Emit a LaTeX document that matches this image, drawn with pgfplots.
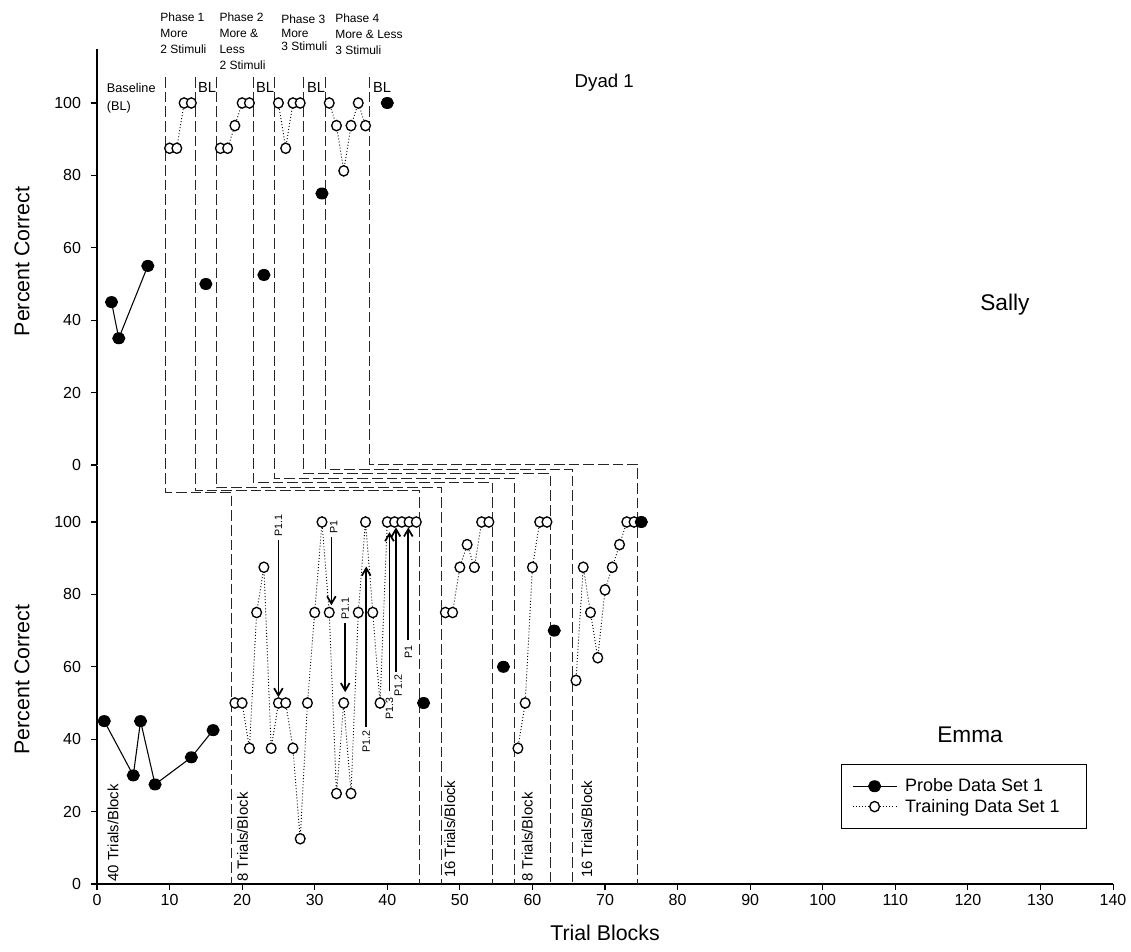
\documentclass[border=0pt]{standalone}
\usepackage{fontspec}
\setmainfont{Liberation Sans}
\usepackage{pgfplots}
\pgfplotsset{compat=1.18}
\usetikzlibrary{arrows.meta}

\pgfplotsset{
  base/.style={
    x=5.443pt, y=2.715pt,
    xmin=0, xmax=140, ymin=0,
    clip=false,
    axis line style={-, line width=0.8pt},
    tick align=outside,
    major tick length=4.5pt,
    tick style={black, line width=0.8pt},
    ytick={0,20,...,100},
    /pgf/number format/assume math mode=true,
    tick label style={font=\fontsize{12}{14}\selectfont},
    y tick label style={xshift=-4pt},
    ylabel style={font=\fontsize{16}{18}\selectfont, at={(axis description cs:0,0.489)}, yshift=56.25pt, anchor=center},
  },
  probe/.style={black, solid, line width=0.8pt, mark=*, mark size=4.3pt,
    mark options={solid, fill=black, xscale=1.05, yscale=0.95}},
  train/.style={black, dash pattern=on 0.7pt off 1.6pt, line width=0.7pt, mark=*, mark size=3.75pt,
    mark options={solid, fill=white, draw=black, line width=1pt, xscale=0.97, yscale=1.03}},
}
\tikzset{
  phaseline/.style={black!85, line width=0.7pt, dash pattern=on 8pt off 3pt},
  arr/.style={line width=1.3pt, -{Straight Barb[length=5.5pt, width=6.5pt, line width=1.3pt]}},
  lab/.style={rotate=90, inner sep=0.5pt, font=\fontsize{8}{9}\selectfont},
  tb/.style={rotate=90, anchor=west, inner sep=0pt, font=\fontsize{11.2}{13}\selectfont},
}

\begin{document}
\begin{tikzpicture}
\useasboundingbox (-72.75pt,-50.25pt) rectangle (775.5pt,663pt);

% ---------------- Bottom panel: Emma ----------------
\begin{axis}[base, ymax=115.5,
  axis x line*=bottom, axis y line*=left,
  xtick={0,10,...,140},
  xlabel={Trial Blocks},
  xlabel style={font=\fontsize{16}{18}\selectfont, at={(axis description cs:0.5,0)}, yshift=-36.4pt, anchor=center},
  ylabel={Percent Correct},
  legend style={at={(axis cs:102.5,33.1)}, anchor=north west, draw=black, line width=0.8pt,
    font=\fontsize{13.5}{16}\selectfont, inner xsep=8pt, inner ysep=8.5pt, row sep=0pt,
    cells={anchor=west}},
  legend image code/.code={\draw[mark repeat=2, mark phase=2, #1] plot coordinates {(0pt,0pt) (16.5pt,0pt) (33pt,0pt)};
    \path (37pt,0pt);},
]
\addlegendimage{probe}
\addlegendentry{Probe Data Set 1}
\addlegendimage{train}
\addlegendentry{Training Data Set 1\rule{10pt}{0pt}}

% phase change lines (connecting both panels)
\draw[phaseline] (axis cs:9.5,222.95) -- (axis cs:9.5,108.2) -- (axis cs:18.5,108.2) -- (axis cs:18.5,0);
\draw[phaseline] (axis cs:13.5,222.95) -- (axis cs:13.5,108.65) -- (axis cs:44.5,108.65) -- (axis cs:44.5,0);
\draw[phaseline] (axis cs:16.5,222.95) -- (axis cs:16.5,109.5) -- (axis cs:47.5,109.5) -- (axis cs:47.5,0);
\draw[phaseline] (axis cs:21.5,222.95) -- (axis cs:21.5,110.85) -- (axis cs:54.5,110.85) -- (axis cs:54.5,0);
\draw[phaseline] (axis cs:24.5,222.95) -- (axis cs:24.5,112.07) -- (axis cs:57.5,112.07) -- (axis cs:57.5,0);
\draw[phaseline] (axis cs:28.5,222.95) -- (axis cs:28.5,113.45) -- (axis cs:62.5,113.45) -- (axis cs:62.5,0);
\draw[phaseline] (axis cs:31.5,222.95) -- (axis cs:31.5,114.64) -- (axis cs:65.5,114.64) -- (axis cs:65.5,0);
\draw[phaseline] (axis cs:37.5,222.95) -- (axis cs:37.5,116.02) -- (axis cs:74.5,116.02) -- (axis cs:74.5,0);

% training data
\addplot[train, forget plot] coordinates {(19,50)(20,50)(21,37.5)(22,75)(23,87.5)(24,37.5)(25,50)(26,50)(27,37.5)(28,12.5)(29,50)(30,75)(31,100)(32,75)(33,25)(34,50)(35,25)(36,75)(37,100)(38,75)(39,50)(40,100)(41,100)(42,100)(43,100)(44,100)};
\addplot[train, forget plot] coordinates {(48,75)(49,75)(50,87.5)(51,93.75)(52,87.5)(53,100)(54,100)};
\addplot[train, forget plot] coordinates {(58,37.5)(59,50)(60,87.5)(61,100)(62,100)};
\addplot[train, forget plot] coordinates {(66,56.25)(67,87.5)(68,75)(69,62.5)(70,81.25)(71,87.5)(72,93.75)(73,100)(74,100)};
% probe data
\addplot[probe, forget plot] coordinates {(1,45)(5,30)(6,45)(8,27.5)(13,35)(16,42.5)};
\addplot[probe, only marks, forget plot] coordinates {(45,50)(56,60)(63,70)(75,100)};

% arrows
\draw[arr] (axis cs:25,95) -- (axis cs:25,51.6);
\node[lab, anchor=west] at (axis cs:25,95.6) {P1.1};
\draw[arr] (axis cs:32.3,95.9) -- (axis cs:32.3,77);
\node[lab, anchor=west] at (axis cs:32.6,96.5) {P1};
\draw[arr] (axis cs:34.2,72) -- (axis cs:34.2,53);
\node[lab, anchor=west] at (axis cs:34.2,72.7) {P1.1};
\draw[arr] (axis cs:37.1,43.5) -- (axis cs:37.1,87.7);
\node[lab, anchor=east] at (axis cs:37.1,42.6) {P1.2};
\draw[arr] (axis cs:40.3,53.2) -- (axis cs:40.3,97.2);
\node[lab, anchor=east] at (axis cs:40.3,51.8) {P1.3};
\draw[arr] (axis cs:41.2,58.6) -- (axis cs:41.2,98.5);
\node[lab, anchor=east] at (axis cs:41.5,58.2) {P1.2};
\draw[arr] (axis cs:42.9,67.4) -- (axis cs:42.9,98.5);
\node[lab, anchor=east] at (axis cs:42.9,66.2) {P1};

% trials/block labels
\node[tb] at (axis cs:2.2,0.6) {40 Trials/Block};
\node[tb] at (axis cs:20.05,0.6) {8 Trials/Block};
\node[tb] at (axis cs:48.6,1.6) {16 Trials/Block};
\node[tb] at (axis cs:59.3,0.6) {8 Trials/Block};
\node[tb] at (axis cs:67.5,1.6) {16 Trials/Block};

\node[font=\fontsize{17}{19}\selectfont] at (axis cs:120.3,41.35) {Emma};
\end{axis}

% ---------------- Top panel: Sally ----------------
\begin{axis}[base, at={(0pt,314.25pt)}, ymax=115,
  axis x line=none, axis y line*=left,
  ylabel={Percent Correct},
]
\addplot[train] coordinates {(10,87.5)(11,87.5)(12,100)(13,100)};
\addplot[train] coordinates {(17,87.5)(18,87.5)(19,93.75)(20,100)(21,100)};
\addplot[train] coordinates {(25,100)(26,87.5)(27,100)(28,100)};
\addplot[train] coordinates {(32,100)(33,93.75)(34,81.25)(35,93.75)(36,100)(37,93.75)};
\addplot[probe] coordinates {(2,45)(3,35)(7,55)};
\addplot[probe, only marks] coordinates {(15,50)(23,52.5)(31,75)(40,100)};

\node[anchor=west, inner sep=0pt, font=\fontsize{9.5}{11}\selectfont] at (axis cs:1.34,104.1) {Baseline};
\node[anchor=west, inner sep=0pt, font=\fontsize{9.5}{11}\selectfont] at (axis cs:1.34,98.8) {(BL)};
\node[anchor=west, inner sep=0pt, font=\fontsize{11}{13}\selectfont] at (axis cs:13.9,104.3) {BL};
\node[anchor=west, inner sep=0pt, font=\fontsize{11}{13}\selectfont] at (axis cs:21.9,104.3) {BL};
\node[anchor=west, inner sep=0pt, font=\fontsize{11}{13}\selectfont] at (axis cs:28.9,104.3) {BL};
\node[anchor=west, inner sep=0pt, font=\fontsize{11}{13}\selectfont] at (axis cs:38.0,104.3) {BL};
\node[anchor=north west, align=left, inner sep=0pt, font=\fontsize{9}{12}\selectfont] at (axis cs:8.7,124.9) {Phase 1\\More\\2 Stimuli};
\node[anchor=north west, align=left, inner sep=0pt, font=\fontsize{9}{12}\selectfont] at (axis cs:16.85,124.9) {Phase 2\\More \&\\Less\\2 Stimuli};
\node[anchor=north west, align=left, inner sep=0pt, font=\fontsize{9}{10}\selectfont] at (axis cs:25.36,124.3) {Phase 3\\More\\3 Stimuli};
\node[anchor=north west, align=left, inner sep=0pt, font=\fontsize{9}{12}\selectfont] at (axis cs:32.8,124.6) {Phase 4\\More \& Less\\3 Stimuli};

\node[font=\fontsize{14}{16}\selectfont] at (axis cs:69.9,105.7) {Dyad 1};
\node[font=\fontsize{17}{19}\selectfont] at (axis cs:125.1,44.2) {Sally};
\end{axis}
\end{tikzpicture}
\end{document}
